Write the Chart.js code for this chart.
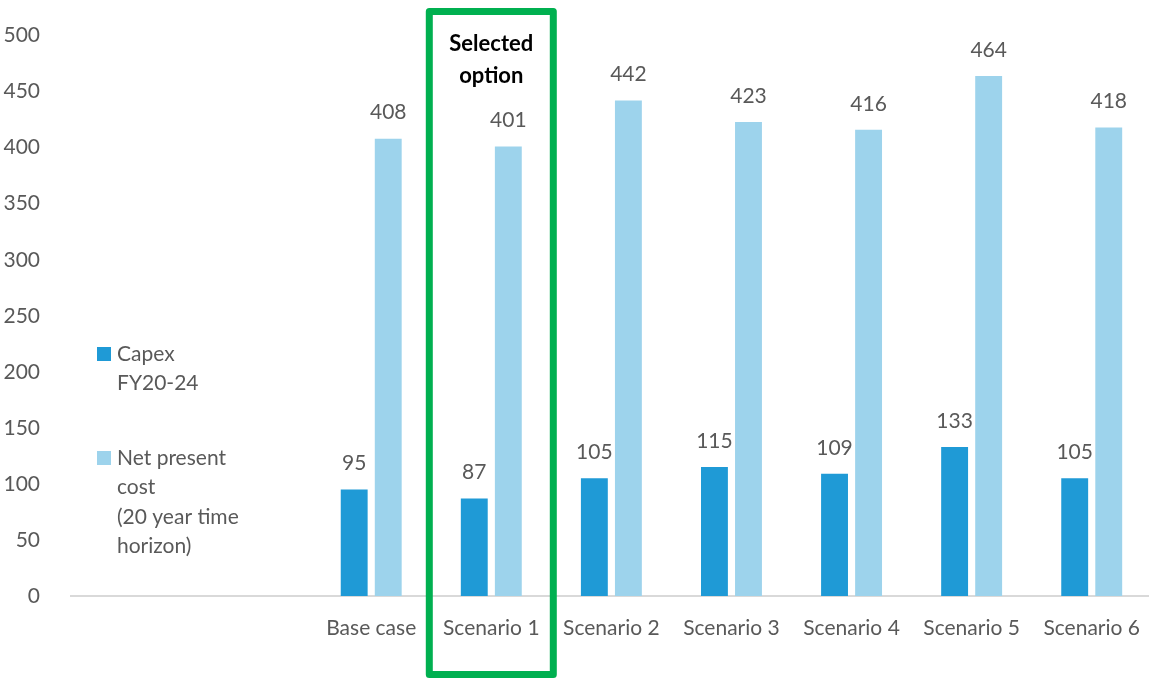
<!DOCTYPE html>
<html>
<head>
<meta charset="utf-8">
<script src="https://cdn.jsdelivr.net/npm/chart.js@4"></script>
<style>
  html, body { margin: 0; padding: 0; background: #fff; overflow: hidden; }
  #wrap { width: 1149px; height: 678px; position: relative; overflow: hidden; }
</style>
</head>
<body>
<div id="wrap"><canvas id="chart" width="1152" height="678"></canvas></div>
<script>
// categories (two empty slots on the left hold the legend)
const categories = ["", "", "Base case", "Scenario 1", "Scenario 2", "Scenario 3", "Scenario 4", "Scenario 5", "Scenario 6"];
const capex = [null, null, 95, 87, 105, 115, 109, 133, 105];
const npc = [null, null, 408, 401, 442, 423, 416, 464, 418];
const yTicks = [0, 50, 100, 150, 200, 250, 300, 350, 400, 450, 500];
const legendLabels = [["Capex", "FY20-24"], ["Net present", "cost", "(20 year time", "horizon)"]];
const selectedIndex = 3;

const darkBlue = "#1F9AD6";
const lightBlue = "#9DD3EC";
const textGrey = "#595959";
const fontFamily = "Lato, 'Open Sans', sans-serif";

// value labels above bars
const valueLabels = {
  id: "valueLabels",
  afterDatasetsDraw(chart) {
    const ctx = chart.ctx;
    ctx.save();
    ctx.font = "21px " + fontFamily;
    ctx.fillStyle = textGrey;
    ctx.textAlign = "center";
    ctx.textBaseline = "middle";
    chart.data.datasets.forEach((ds, di) => {
      chart.getDatasetMeta(di).data.forEach((bar, i) => {
        if (ds.data[i] == null) return;
        ctx.fillText(ds.data[i], bar.x, bar.y - 26);
      });
    });
    ctx.restore();
  }
};

// legend drawn inside plot area
const innerLegend = {
  id: "innerLegend",
  afterDraw(chart) {
    const ctx = chart.ctx;
    const left = chart.chartArea.left;
    const colors = [darkBlue, lightBlue];
    const starts = [354, 458];
    ctx.save();
    ctx.font = "21px " + fontFamily;
    ctx.textBaseline = "middle";
    ctx.textAlign = "left";
    legendLabels.forEach((lines, k) => {
      ctx.fillStyle = colors[k];
      ctx.fillRect(left + 26, starts[k] - 7, 14, 14);
      ctx.fillStyle = textGrey;
      lines.forEach((t, j) => ctx.fillText(t, left + 46, starts[k] + j * 29.5));
    });
    ctx.restore();
  }
};

// green box around the selected option
const selectedBox = {
  id: "selectedBox",
  afterDraw(chart) {
    const ctx = chart.ctx;
    const cx = chart.scales.x.getPixelForValue(selectedIndex);
    const half = 62;
    ctx.save();
    ctx.strokeStyle = "#00B050";
    ctx.lineWidth = 7;
    ctx.lineJoin = "round";
    ctx.strokeRect(cx - half, 11.5, half * 2, 663);
    ctx.fillStyle = "#000";
    ctx.font = "bold 22px " + fontFamily;
    ctx.textAlign = "center";
    ctx.textBaseline = "middle";
    ctx.fillText("Selected", cx, 44);
    ctx.fillText("option", cx, 76);
    ctx.restore();
  }
};

new Chart(document.getElementById("chart"), {
  type: "bar",
  plugins: [valueLabels, innerLegend, selectedBox],
  data: {
    labels: categories,
    datasets: [
      { label: "Capex FY20-24", data: capex, backgroundColor: darkBlue },
      { label: "Net present cost (20 year time horizon)", data: npc, backgroundColor: lightBlue }
    ]
  },
  options: {
    responsive: false,
    animation: false,
    layout: { padding: { top: 33, right: 0, left: 0, bottom: 0 } },
    datasets: { bar: { categoryPercentage: 0.567, barPercentage: 0.79 } },
    plugins: { legend: { display: false }, tooltip: { enabled: false } },
    scales: {
      x: {
        grid: { display: false },
        border: { color: "#D9D9D9", width: 2 },
        ticks: { color: textGrey, font: { size: 21, family: fontFamily }, padding: 12, maxRotation: 0, autoSkip: false },
        afterFit(scale) { scale.height = 82; }
      },
      y: {
        min: 0,
        max: 500,
        afterBuildTicks(scale) { scale.ticks = yTicks.map(v => ({ value: v })); },
        grid: { display: false },
        border: { display: false },
        ticks: { color: textGrey, font: { size: 21, family: fontFamily }, padding: 23 },
        afterFit(scale) { scale.width = 71; }
      }
    }
  }
});
</script>
</body>
</html>
